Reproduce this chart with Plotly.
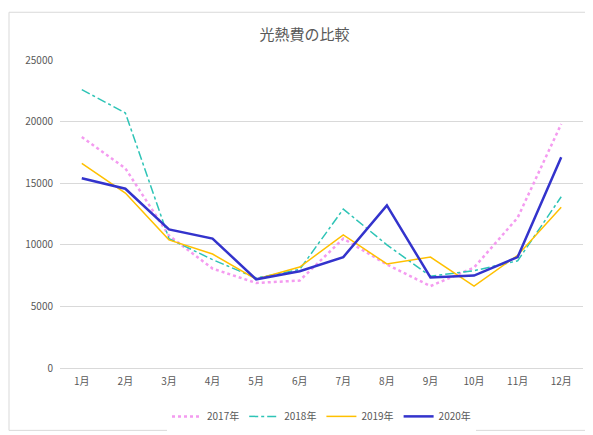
import plotly.graph_objects as go

months = [f"{i}月" for i in range(1, 13)]
s2017 = [18750, 16200, 10750, 8070, 6900, 7100, 10500, 8400, 6650, 8150, 12200, 19800]
s2018 = [22600, 20700, 10500, 8800, 7300, 8000, 12900, 10000, 7450, 7900, 8700, 13900]
s2019 = [16600, 14200, 10400, 9250, 7200, 8200, 10800, 8450, 9000, 6650, 9150, 13050]
s2020 = [15400, 14550, 11250, 10500, 7200, 7850, 9000, 13200, 7350, 7500, 9000, 17100]

fig = go.Figure()
fig.add_trace(go.Scatter(x=months, y=s2017, name="2017年", mode="lines",
                         line=dict(color="#F49BF0", width=2.5, dash="dot")))
fig.add_trace(go.Scatter(x=months, y=s2018, name="2018年", mode="lines",
                         line=dict(color="#2EC4B6", width=1.5, dash="dashdot")))
fig.add_trace(go.Scatter(x=months, y=s2019, name="2019年", mode="lines",
                         line=dict(color="#FFC000", width=1.5)))
fig.add_trace(go.Scatter(x=months, y=s2020, name="2020年", mode="lines",
                         line=dict(color="#3333CC", width=2.5)))

fig.update_layout(
    width=593, height=435,
    paper_bgcolor="white", plot_bgcolor="white",
    font=dict(family="Noto Sans CJK JP", size=10, color="#595959"),
    title=dict(text="光熱費の比較", x=0.5, xanchor="center", y=0.95,
               font=dict(size=15, color="#595959")),
    margin=dict(l=52, r=18, t=52, b=67),
    xaxis=dict(showgrid=False, showline=True, linecolor="#D9D9D9", ticks="",
               range=[-0.5, 11.5], ticklabelstandoff=4),
    yaxis=dict(range=[0, 25000], dtick=5000, gridcolor="#D9D9D9",
               zeroline=False, showline=False, tickformat="d", ticklabelstandoff=6),
    legend=dict(orientation="h", x=0.5, xanchor="center", y=-0.11, yanchor="top",
                font=dict(size=10)),
    shapes=[dict(type="rect", xref="paper", yref="paper", x0=-0.0975, y0=-0.2025,
                 x1=1.029, y1=1.155, line=dict(color="#D9D9D9", width=1))],
)
fig.write_html("out.html")
